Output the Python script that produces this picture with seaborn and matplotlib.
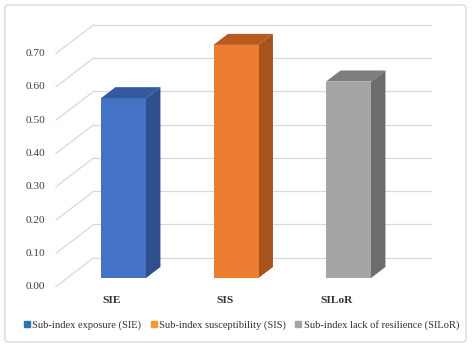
import matplotlib
matplotlib.use("Agg")
import matplotlib.pyplot as plt
from matplotlib.patches import Polygon, FancyBboxPatch
from matplotlib.lines import Line2D
import seaborn as sns
import pandas as pd

# Data
categories = ["SIE", "SIS", "SILoR"]
values = [0.54, 0.70, 0.59]
legend_labels = ["Sub-index exposure (SIE)", "Sub-index susceptibility (SIS)",
                 "Sub-index lack of resilience (SILoR)"]
tick_values = [0.0, 0.1, 0.2, 0.3, 0.4, 0.5, 0.6, 0.7]

front_colors = ["#4472C4", "#ED7D31", "#A5A5A5"]
side_colors = ["#2E4F8C", "#A8521C", "#6C6C6C"]
top_colors = ["#34599E", "#B8591F", "#7D7D7D"]
legend_colors = ["#2E75B6", "#ED9B31", "#A5A5A5"]

sns.set_theme(style="white")
plt.rcParams["font.family"] = ["Liberation Serif", "DejaVu Serif"]

W, H = 474, 348
fig = plt.figure(figsize=(W / 100, H / 100), dpi=100)
ax = fig.add_axes([0, 0, 1, 1])

df = pd.DataFrame({"cat": categories, "val": values})
bar_w = 0.4
sns.barplot(data=df, x="cat", y="val", hue="cat", palette=front_colors,
            legend=False, width=bar_w, saturation=1, linewidth=0, ax=ax,
            zorder=5)

# pixel layout: x_px = X0 + SX * x ; y_px = Y0 - SY * v
X0, SX = 123.5, 112.5
Y0, SY = 278.0, 333.0
ax.set_xlim(-X0 / SX, (W - X0) / SX)
ax.set_ylim((Y0 - H) / SY, Y0 / SY)
ax.axis("off")

# oblique depth vector (one depth unit), in data units
DX, DV = 38 / SX, 29 / SY


def proj(x, v, d):
    return (x + d * DX, v + d * DV)


D_FRONT, D_BACK, D_BAR = -0.3, 0.7, 0.38
grid_c = "#D9D9D9"
x_left, x_right = -0.5, 2.5

for v in tick_values:
    # back wall gridline
    p0, p1 = proj(x_left, v, D_BACK), proj(x_right, v, D_BACK)
    ax.plot([p0[0], p1[0]], [p0[1], p1[1]], color=grid_c, lw=0.9, zorder=1)
    # side wall diagonal
    q0 = proj(x_left, v, D_FRONT)
    ax.plot([q0[0], p0[0]], [q0[1], p0[1]], color=grid_c, lw=0.9, zorder=1)
    ax.annotate(f"{v:.2f}", xy=q0, xytext=(-7.5, 0), textcoords="offset points",
                ha="right", va="center", fontsize=8.2, color="#404040")

# side and top faces of each bar
for i, v in enumerate(values):
    xl, xr = i - bar_w / 2, i + bar_w / 2
    side = [(xr, 0), (xr, v), proj(xr, v, D_BAR), proj(xr, 0, D_BAR)]
    top = [(xl, v), (xr, v), proj(xr, v, D_BAR), proj(xl, v, D_BAR)]
    ax.add_patch(Polygon(side, closed=True, fc=side_colors[i], ec="none",
                         zorder=4))
    ax.add_patch(Polygon(top, closed=True, fc=top_colors[i], ec="none",
                         zorder=6))
    lx, ly = proj(i, 0, D_FRONT)
    ax.annotate(categories[i], xy=(lx, ly), xytext=(0, -10),
                textcoords="offset points", ha="center", va="center",
                fontsize=8.2, fontweight="bold", color="#333333")

handles = [Line2D([], [], marker="s", ls="none", ms=4.5, mfc=c, mec=c)
           for c in legend_colors]
fig.legend(handles, legend_labels, loc="center", ncol=3,
           bbox_to_anchor=(0.508, 1 - 325 / H), frameon=False,
           fontsize=7.6, handletextpad=0.1, columnspacing=0.8,
           handlelength=0.8, labelcolor="#333333")

# rounded chart border
fig.patches.append(FancyBboxPatch((5 / W, 6 / H), 461 / W, 337 / H,
                                  boxstyle="round,pad=0,rounding_size=0.008",
                                  transform=fig.transFigure, fc="none",
                                  ec="#D9D9D9", lw=1.0))

fig.savefig("out.png", dpi=100)
